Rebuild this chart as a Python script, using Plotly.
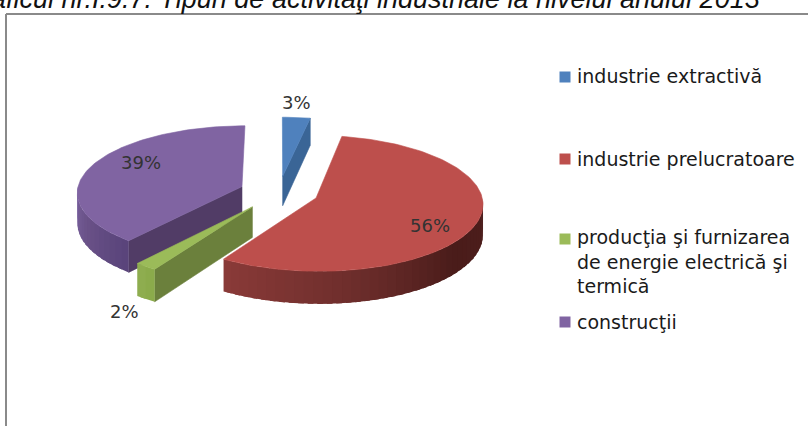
import math
import plotly.graph_objects as go

# --- data ---
categories = ["industrie extractivă", "industrie prelucratoare",
              "producţia şi furnizarea<br>de energie electrică şi<br>termică", "construcţii"]
values = [3, 56, 2, 39]
colors = ["#4f81bd", "#bd4f4c", "#9bbb59", "#8064a2"]
title_text = "Graficul nr.I.9.7. Tipuri de activităţi industriale la nivelul anului 2013"

# --- styling / layout constants ---
W, H = 808, 426
CX, CY, RA, RB, PERSP, DEPTH = 279, 192, 165, 67, 0.08, 30
pulls = [0.24, 0.24, 0.27, 0.24]
label_pos = [(296, 102), (430, 225), (124, 311), (141, 162)]
legend_marker_y = [77, 159, 239, 322]
legend_text_y = [76, 159, 261, 322]
cut_wall = {0: ("end", "#3a6596"), 2: ("start", "#6b803c"), 3: ("start", "#513c66")}
outer_wall = {
    1: [(90, "#4d1e1c"), (130, "#4a1c1a"), (170, "#6e2e2c"), (212.4, "#8a3a38")],
    2: [(212.4, "#8aaa4a"), (219.6, "#8fae50")],
    3: [(219.6, "#59437a"), (245, "#6a5288"), (270, "#7c64a2")],
}


def project(U, V, down=0.0):
    s = 1 - PERSP * V
    return CX + RA * U * s, CY - RB * V * s + down * s


def hex_rgb(c):
    return tuple(int(c[i:i + 2], 16) for i in (1, 3, 5))


def wall_colour(stops, deg):
    if deg <= stops[0][0]:
        return stops[0][1]
    for (d0, c0), (d1, c1) in zip(stops, stops[1:]):
        if d0 <= deg <= d1:
            t = (deg - d0) / (d1 - d0)
            a, b = hex_rgb(c0), hex_rgb(c1)
            return "#%02x%02x%02x" % tuple(round(a[k] + (b[k] - a[k]) * t) for k in range(3))
    return stops[-1][1]


def poly(pts, colour, width=0.6):
    xs, ys = zip(*pts)
    return go.Scatter(x=list(xs) + [xs[0]], y=list(ys) + [ys[0]], mode="lines", fill="toself",
                      fillcolor=colour, line=dict(color=colour, width=width),
                      hoverinfo="skip", showlegend=False)


# slice geometry derived from the values
total = sum(values)
spans = []
acc = 0
for v in values:
    spans.append((acc / total * 360, (acc + v) / total * 360))
    acc += v

traces_by_slice = {}
for i, (a0, a1) in enumerate(spans):
    mid = math.radians((a0 + a1) / 2)
    ou, ov = pulls[i] * math.sin(mid), pulls[i] * math.cos(mid)

    def P(deg, r=1.0, down=0.0):
        t = math.radians(deg)
        return project(ou + r * math.sin(t), ov + r * math.cos(t), down)

    tr = []
    # cut wall
    if i in cut_wall:
        side, col = cut_wall[i]
        d = a0 if side == "start" else a1
        tr.append(poly([P(d, 0), P(d, 1), P(d, 1, DEPTH), P(d, 0, DEPTH)], col))
    # outer wall, in overlapping gradient strips
    if i in outer_wall:
        lo, hi = max(a0, 90), min(a1, 270)
        n = max(2, int((hi - lo) / 3))
        step = (hi - lo) / n
        for k in range(n):
            d0 = lo + step * k
            d1 = min(hi, d0 + step * 1.6)
            tr.append(poly([P(d0 + t * (d1 - d0) / 4) for t in range(5)]
                           + [P(d0 + t * (d1 - d0) / 4, 1, DEPTH) for t in range(4, -1, -1)],
                           wall_colour(outer_wall[i], d0 + step / 2), width=0))
    # top face
    m = max(3, int((a1 - a0) / 1.5))
    top = [P(a0, 0)] + [P(a0 + (a1 - a0) * k / m) for k in range(m + 1)]
    tr.append(poly(top, colors[i]))
    traces_by_slice[i] = tr

fig = go.Figure()
for i in [0, 3, 2, 1]:
    for t in traces_by_slice[i]:
        fig.add_trace(t)

# legend markers
fig.add_trace(go.Scatter(x=[565] * len(values), y=legend_marker_y, mode="markers",
                         marker=dict(symbol="square", size=11, color=colors),
                         hoverinfo="skip", showlegend=False))

ann = []
for v, (x, y) in zip(values, label_pos):
    ann.append(dict(x=x, y=y, text=f"{v}%", showarrow=False, xref="x", yref="y",
                    font=dict(family="DejaVu Sans", size=18, color="#333333")))
for c, y in zip(categories, legend_text_y):
    ann.append(dict(x=575, y=y, text=c, showarrow=False, xref="x", yref="y", xanchor="left", align="left",
                    font=dict(family="DejaVu Sans", size=19, color="#1a1a1a")))
ann.append(dict(x=762, y=16, text=f"<i>{title_text}</i>", showarrow=False, xref="x", yref="y",
                xanchor="right", yanchor="bottom",
                font=dict(family="Liberation Sans", size=27, color="#111111")))

fig.update_layout(
    width=W, height=H, margin=dict(l=0, r=0, t=0, b=0),
    paper_bgcolor="white", plot_bgcolor="white", showlegend=False,
    xaxis=dict(range=[0, W], visible=False, fixedrange=True),
    yaxis=dict(range=[H, 0], visible=False, fixedrange=True),
    annotations=ann,
    shapes=[
        dict(type="line", x0=6, x1=W, y0=14, y1=14, xref="x", yref="y", line=dict(color="#8a8a8a", width=2)),
        dict(type="line", x0=6, x1=6, y0=14, y1=H, xref="x", yref="y", line=dict(color="#8a8a8a", width=2)),
    ],
)
fig.write_html("out.html", config={"displayModeBar": False},
               post_script="document.body.style.margin='0';document.body.style.overflow='hidden';")
